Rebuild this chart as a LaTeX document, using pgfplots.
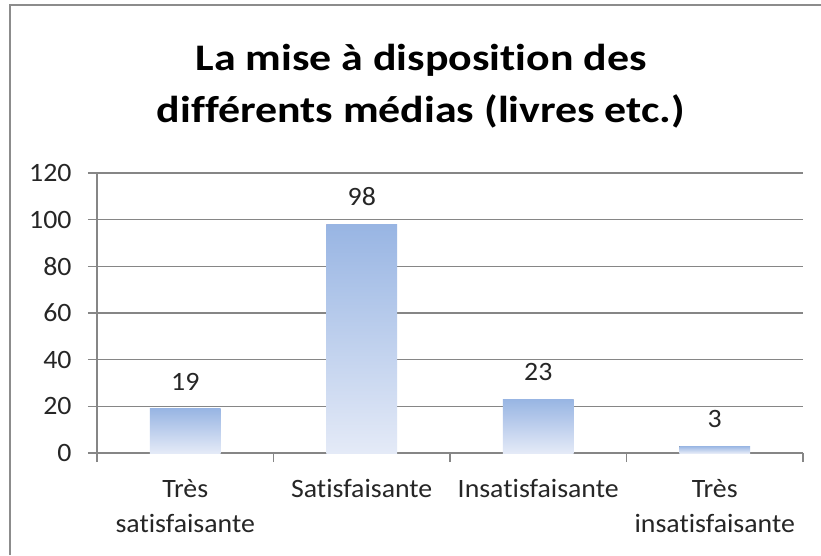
\documentclass[border=0pt]{standalone}
\usepackage{fontspec}
\setmainfont{Carlito}[Ligatures=NoCommon]
\newfontfamily\titlefont{Carlito}[FakeStretch=1.17, Ligatures=NoCommon]
\newfontfamily\labelfont{Carlito}[FakeStretch=1.05, Ligatures=NoCommon]
\usepackage{pgfplots}
\pgfplotsset{compat=1.18}
\definecolor{barTop}{RGB}{152,181,227}
\definecolor{barBot}{RGB}{228,234,247}
\definecolor{gridGray}{RGB}{134,134,134}
\definecolor{frameGray}{RGB}{140,140,140}

\begin{document}
\begin{tikzpicture}[x=1pt,y=1pt]
\useasboundingbox (0,0) rectangle (821,555);
\fill[white] (0,0) rectangle (821,555);
\draw[frameGray, line width=2.5pt] (10,0) -- (10,550) -- (821,550);
% title, two lines
\node[font=\titlefont\fontsize{37.5}{46}\selectfont\bfseries, anchor=base] at (421,484) {La mise à disposition des};
\node[font=\titlefont\fontsize{37.5}{46}\selectfont\bfseries, anchor=base] at (421,432) {différents médias (livres etc.)};

\begin{axis}[
  at={(97pt,102pt)}, anchor=south west,
  scale only axis, width=706pt, height=280pt,
  xmin=-0.5, xmax=3.5, ymin=0, ymax=120,
  ybar, bar width=0.4, bar shift=0pt,
  axis x line*=bottom, axis y line*=left,
  axis line style={gridGray, line width=1.3pt, -},
  ytick={0,20,...,120},
  ymajorgrids, grid style={gridGray, line width=1.3pt},
  xtick={0,1,2,3},
  xticklabels={{Très\\satisfaisante}, Satisfaisante, Insatisfaisante, {Très\\insatisfaisante}},
  minor xtick={-0.5,0.5,1.5,2.5,3.5},
  tick align=outside,
  major tick length=9pt, minor tick length=9pt,
  major x tick style={draw=none},
  minor x tick style={gridGray, line width=1.3pt},
  y tick style={gridGray, line width=1.3pt},
  /pgf/number format/assume math mode=true,
  ticklabel style={font=\labelfont\fontsize{26.5}{35}\selectfont, text=black!85},
  x tick label style={align=center, yshift=-14pt},
  y tick label style={xshift=-13pt},
  nodes near coords,
  nodes near coords style={font=\labelfont\fontsize{26.5}{30}\selectfont, text=black!85, yshift=15pt},
  every axis plot/.append style={draw=none, top color=barTop, bottom color=barBot},
]
\addplot coordinates {(0,19)};
\addplot coordinates {(1,98)};
\addplot coordinates {(2,23)};
\addplot coordinates {(3,3)};
\end{axis}
\end{tikzpicture}
\end{document}
